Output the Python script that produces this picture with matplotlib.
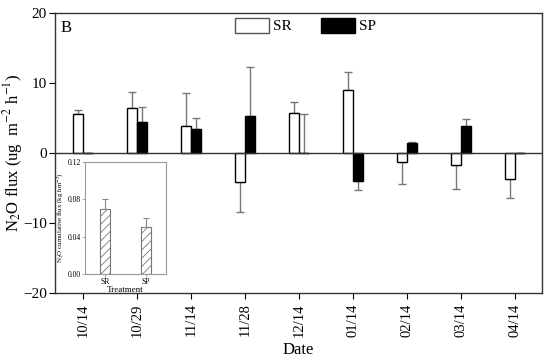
import matplotlib
matplotlib.use('Agg')
import matplotlib.pyplot as plt
from matplotlib.patches import Patch
import numpy as np

# dados
datas = ['10/14', '10/29', '11/14', '11/28', '12/14', '01/14', '02/14', '03/14', '04/14']
sr = [5.5, 6.45, 3.75, -4.1, 5.65, 8.9, -1.3, -1.7, -3.75]
sr_err = [0.6, 2.15, 4.75, 4.3, 1.65, 2.55, 3.2, 3.5, 2.65]
sp = [0, 4.45, 3.4, 5.3, 0, -4.0, 1.35, 3.85, 0]
sp_err = [0, 2.05, 1.6, 6.9, 5.5, 1.3, 0.25, 0.95, 0]

tratamentos = ['SR', 'SP']
acumulado = [0.07, 0.05]
acumulado_err = [0.01, 0.01]

plt.rcParams['font.family'] = 'Liberation Serif'
plt.rcParams['mathtext.fontset'] = 'stix'
plt.rcParams['hatch.linewidth'] = 0.6

fig = plt.figure(figsize=(5.5, 3.59), dpi=100)
ax = fig.add_axes([0.1, 0.1838, 0.8855, 0.7813])

x = np.arange(len(datas))
w = 0.185

def erros(vals, errs):
    # barra de erro só para o lado do valor
    lo = [e if v < 0 else 0 for v, e in zip(vals, errs)]
    hi = [e if v >= 0 else 0 for v, e in zip(vals, errs)]
    return [lo, hi]

ax.bar(x - w / 2, sr, w, color='white', edgecolor='black', linewidth=1.0, zorder=2)
ax.bar(x + w / 2, sp, w, color='black', edgecolor='black', linewidth=1.0, zorder=2)
ax.errorbar(x - w / 2, sr, yerr=erros(sr, sr_err), fmt='none', ecolor='#777777',
            elinewidth=1.0, capsize=3, capthick=1.0, zorder=1)
ax.errorbar(x + w / 2, sp, yerr=erros(sp, sp_err), fmt='none', ecolor='#777777',
            elinewidth=1.0, capsize=3, capthick=1.0, zorder=1)
ax.axhline(0, color='#333333', linewidth=1.0, zorder=3)

ax.set_xlim(-0.52, 8.5)
ax.set_ylim(-20, 20)
ax.set_yticks([-20, -10, 0, 10, 20])
ax.set_xticks(x)
ax.set_xticklabels(datas, rotation=90, fontsize=10.5)
ax.tick_params(axis='y', labelsize=11, direction='out', length=4, pad=2)
ax.tick_params(axis='x', direction='out', length=4)
ax.set_xlabel('Date', fontsize=12, labelpad=4)
ax.set_ylabel('N$_2$O flux (ug  m$^{-2}$ h$^{-1}$)', fontsize=12)
ax.yaxis.set_label_coords(-0.062, 0.5)
for s in ax.spines.values():
    s.set_linewidth(1.0)
    s.set_color('#333333')

ax.text(0.012, 0.945, 'B', transform=ax.transAxes, fontsize=12, va='center')

handles = [Patch(facecolor='white', edgecolor='#555555', label='SR'),
           Patch(facecolor='black', edgecolor='black', label='SP')]
ax.legend(handles=handles, loc='upper left', bbox_to_anchor=(0.37, 0.982), ncol=2,
          frameon=False, fontsize=11, handlelength=2.2, handleheight=1.15,
          handletextpad=0.3, columnspacing=1.9, borderpad=0, borderaxespad=0)

# gráfico inserido com o fluxo acumulado
ins = fig.add_axes([0.1545, 0.2368, 0.147, 0.312])
xi = np.arange(len(tratamentos))
ins.bar(xi, acumulado, 0.25, color='white', edgecolor='#777777', hatch='////', linewidth=0.8)
ins.errorbar(xi, acumulado, yerr=[[0, 0], acumulado_err], fmt='none', ecolor='#888888',
             elinewidth=0.8, capsize=2, capthick=0.8)
ins.set_xlim(-0.49, 1.49)
ins.set_ylim(0, 0.12)
ins.set_yticks([0, 0.04, 0.08, 0.12])
ins.set_yticklabels(['0.00', '0.04', '0.08', '0.12'])
ins.set_xticks(xi)
ins.set_xticklabels(tratamentos)
ins.tick_params(labelsize=5.5, length=2, width=0.5, pad=1, color='#888888')
ins.set_xlabel('Treatment', fontsize=6.5, labelpad=0)
ins.set_ylabel('N$_2$O cumulative flux (kg hm$^{-2}$)', fontsize=5)
ins.yaxis.set_label_coords(-0.23, 0.5)
for s in ins.spines.values():
    s.set_color('#999999')
    s.set_linewidth(0.8)

fig.savefig('out.png', dpi=100)
plt.close()
